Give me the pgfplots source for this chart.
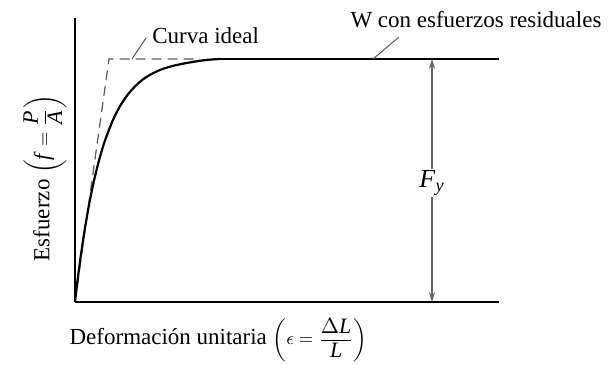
\documentclass[border=0pt]{standalone}
\usepackage{pgfplots}
\pgfplotsset{compat=1.18}
\usepackage{amsmath}
\usepackage{fontspec}
\setmainfont{Liberation Serif}
\usetikzlibrary{arrows.meta}
\newcommand{\tl}[1]{\text{\fontsize{11}{13}\selectfont#1}}
\begin{document}
\begin{tikzpicture}
\begin{axis}[
  scale only axis, width=212pt, height=142pt,
  xmin=0, xmax=424, ymin=0, ymax=284,
  axis x line=bottom, axis y line=left,
  axis line style={line width=0.8pt, -},
  xtick=\empty, ytick=\empty,
  clip=false,
  font=\fontsize{11.5}{13}\selectfont,
]
% ideal curve (dashed)
\addplot[black!65, line width=0.6pt, dash pattern=on 5pt off 3pt] coordinates {(0,0) (34,243) (125,243)};
% W with residual stresses
\addplot[black, line width=1.1pt, smooth] coordinates {
(0,0) (2,17.1) (4,32.9) (6,47.7) (8,61.4) (10,74.1) (13,91.6) (16,107.3) (20,125.7) (25,145.2) (30,161.5) (38,182.1) (45,195.8) (52,206.4) (60,215.6) (68,222.6) (76,227.7) (85,232.0) (95,235.3) (105,237.7) (115,239.6) (125,241.2) (135,242.4) (145,243)};
\addplot[black, line width=1.1pt] coordinates {(145,243) (424,243)};
% leaders
\draw[black!65, line width=0.5pt] (axis cs:57,243) -- (axis cs:71,264);
\node[anchor=west, inner sep=0pt] at (axis cs:77,266) {Curva ideal};
\draw[black!65, line width=0.5pt] (axis cs:298,243) -- (axis cs:324,265);
\node[inner sep=0pt] at (axis cs:401,282) {W con esfuerzos residuales};
% Fy arrow
\draw[black!60, line width=0.6pt, {Stealth[length=5pt,width=3pt]}-{Stealth[length=5pt,width=3pt]}] (axis cs:357,0) -- (axis cs:357,243);
\node[fill=white, inner sep=1pt, font=\fontsize{13}{15}\selectfont] at (axis cs:357,119) {\textit{F}\textsubscript{\textit{y}}};
% axis labels
\node[rotate=90, inner sep=0pt] at (axis cs:-30,124) {Esfuerzo {\fontsize{9.5}{11}\selectfont$\left(\tl{\textit{f}}=\dfrac{\tl{\textit{P}}}{\tl{\textit{A}}}\right)$}};
\node[inner sep=0pt] at (axis cs:143.5,-38) {Deformación unitaria {\fontsize{9.5}{11}\selectfont$\left(\epsilon=\dfrac{\tl{$\Delta$\textit{L}}}{\tl{\textit{L}}}\right)$}};
\coordinate (bl) at (axis cs:-75,-62);
\coordinate (tr) at (axis cs:535,302);
\end{axis}
\pgfresetboundingbox
\useasboundingbox (bl) rectangle (tr);
\end{tikzpicture}
\end{document}
